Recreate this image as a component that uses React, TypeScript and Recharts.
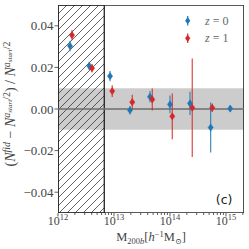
import React from 'react';
import {
  ComposedChart,
  Scatter,
  XAxis,
  YAxis,
  ErrorBar,
  ReferenceArea,
  ReferenceLine,
  Legend,
} from 'recharts';

// ---- data ----
const massZ0 = [1.64e12, 3.62e12, 8.49e12, 1.93e13, 4.4e13, 1.0e14, 2.28e14, 5.33e14, 1.19e15];
const deltaZ0 = [0.0303, 0.0207, 0.0158, -0.0006, 0.0059, 0.0022, 0.0027, -0.0089, 0.0002];
const errZ0 = [0.0025, 0.002, 0.0025, 0.002, 0.0027, 0.0043, 0.0056, 0.012, 0.0015];

const massZ1 = [1.78e12, 4.05e12, 9.3e12, 2.12e13, 4.83e13, 1.1e14, 2.5e14, 5.69e14];
const deltaZ1 = [0.0355, 0.0196, 0.0086, 0.0033, 0.0046, -0.0035, 0.0006, 0.0006];
const errZ1 = [0.0025, 0.002, 0.0028, 0.0036, 0.0053, 0.011, 0.0237, 0.002];

const xMajorTicks = [1e12, 1e13, 1e14, 1e15];
const xMinorTicks = [
  2e12, 3e12, 4e12, 5e12, 6e12, 7e12, 8e12, 9e12,
  2e13, 3e13, 4e13, 5e13, 6e13, 7e13, 8e13, 9e13,
  2e14, 3e14, 4e14, 5e14, 6e14, 7e14, 8e14, 9e14,
  2e15,
];
const yTicks = [-0.04, -0.02, 0, 0.02, 0.04];
const seriesLabels = ['0', '1'];

const xDomain = [1e12, 2.1e15];
const yDomain = [-0.05, 0.05];
const hatchEnd = 6.7e12;
const bandLimit = 0.01;

const BLUE = '#1f77b4';
const RED = '#d62728';
const SERIF = '"Liberation Serif", "DejaVu Serif", serif';

const dataZ0 = massZ0.map((x, i) => ({ x, y: deltaZ0[i], err: errZ0[i] }));
const dataZ1 = massZ1.map((x, i) => ({ x, y: deltaZ1[i], err: errZ1[i] }));

type Part = [string, number, number, boolean?];
function rich(parts: Part[]) {
  let prev = 0;
  return parts.map(([t, size, off, it], i) => {
    const dy = off - prev;
    prev = off;
    return (
      <tspan key={i} fontSize={size} dy={dy} fontStyle={it ? 'italic' : 'normal'}>
        {t}
      </tspan>
    );
  });
}

const Diamond = (color: string) => (props: any) => {
  const { cx, cy } = props;
  if (cx == null || cy == null) return <g />;
  const w = 2.6;
  const h = 3.6;
  return (
    <polygon
      points={`${cx},${cy - h} ${cx + w},${cy} ${cx},${cy + h} ${cx - w},${cy}`}
      fill={color}
      stroke={color}
      strokeWidth={0.5}
    />
  );
};

const XTick = (props: any) => {
  const { x, y, payload } = props;
  const v = payload.value as number;
  const e = Math.log10(v);
  const major = Math.abs(e - Math.round(e)) < 1e-6;
  return (
    <g>
      <line x1={x} y1={y} x2={x} y2={y + (major ? 3.5 : 2)} stroke="#333" strokeWidth={0.8} />
      {major && (
        <text x={x} y={y + 12} textAnchor="middle" fontFamily={SERIF} fill="#444">
          {rich([
            ['10', 12, 0],
            [String(Math.round(e)), 8.5, -5],
          ])}
        </text>
      )}
    </g>
  );
};

const YTick = (props: any) => {
  const { x, y, payload } = props;
  const v = payload.value as number;
  const s = v.toFixed(2).replace('-', '\u2212');
  return (
    <text x={x} y={y} dy={4.5} textAnchor="end" fontFamily={SERIF} fontSize={13} fill="#444">
      {s}
    </text>
  );
};

const YLabel = () => {
  const cx = 15;
  const cy = 104;
  return (
    <text
      x={cx}
      y={cy}
      transform={`rotate(-90, ${cx}, ${cy})`}
      textAnchor="middle"
      fontFamily={SERIF}
      fill="#444"
    >
      {rich([
        ['(', 14, 0],
        ['N', 14, 0, true],
        ['fid', 10, -5.5, true],
        [' \u2212 ', 14, 0],
        ['N', 14, 0, true],
        ['a', 10, -5.5, true],
        ['start', 7, -3.5, true],
        ['/2', 10, -5.5],
        [')', 14, 0],
        [' / ', 14, 0],
        ['N', 14, 0, true],
        ['a', 10, -5.5, true],
        ['start', 7, -3.5, true],
        ['/2', 10, -5.5],
        ['', 14, 0],
      ])}
    </text>
  );
};

const XLabel = (props: any) => {
  const vb = props.viewBox || {};
  const cx = (vb.x ?? 58) + (vb.width ?? 186) / 2;
  return (
    <text x={cx} y={241} textAnchor="middle" fontFamily={SERIF} fill="#444">
      {rich([
        ['M', 12.5, 0],
        ['200', 8.5, 2.5],
        ['b', 8.5, 2.5, true],
        ['[', 12.5, 0],
        ['h', 12.5, 0, true],
        ['\u22121', 8.5, -4.5],
        ['M', 12.5, 0],
        ['\u2299', 8, 2.5],
        [']', 12.5, 0],
      ])}
    </text>
  );
};

const PanelLabel = (props: any) => {
  const vb = props.viewBox || {};
  return (
    <text
      x={vb.x + vb.width - 11.5}
      y={vb.y + vb.height - 9}
      textAnchor="end"
      fontFamily='"DejaVu Sans", sans-serif'
      fontSize={12.5}
      fill="#222"
    >
      (c)
    </text>
  );
};

const LegendContent = () => {
  const rows = [
    { color: BLUE, label: seriesLabels[0] },
    { color: RED, label: seriesLabels[1] },
  ];
  return (
    <svg width={66} height={40}>
      {rows.map((r, i) => {
        const my = 12.7 + i * 17.6;
        return (
          <g key={i}>
            <line x1={9.7} y1={my - 4.8} x2={9.7} y2={my + 4.8} stroke={r.color} strokeWidth={1.2} />
            <polygon
              points={`9.7,${my - 3.6} 12.3,${my} 9.7,${my + 3.6} 7.1,${my}`}
              fill={r.color}
            />
            <text x={27} y={my + 3.8} fontFamily={SERIF} fontSize={12} fill="#666">
              <tspan fontStyle="italic">z</tspan>
              <tspan> = {r.label}</tspan>
            </text>
          </g>
        );
      })}
    </svg>
  );
};

export default function App() {
  return (
    <div style={{ position: 'fixed', left: 0, top: 0, width: 249, height: 249, background: '#fff' }}>
      <ComposedChart width={249} height={249} margin={{ top: 5, right: 5, bottom: 0, left: 0 }}>
        <defs>
          <pattern id="hatch" patternUnits="userSpaceOnUse" width={8} height={8}>
            <path d="M-2,2 L2,-2 M0,8 L8,0 M6,10 L10,6" stroke="#222" strokeWidth={0.7} />
          </pattern>
        </defs>
        <XAxis
          type="number"
          dataKey="x"
          scale="log"
          domain={xDomain}
          allowDataOverflow
          ticks={[...xMajorTicks, ...xMinorTicks]}
          interval={0}
          tickSize={0}
          tickMargin={0}
          axisLine={false}
          tickLine={false}
          tick={<XTick />}
          height={36}
          label={<XLabel />}
        />
        <YAxis
          type="number"
          dataKey="y"
          domain={yDomain}
          allowDataOverflow
          ticks={yTicks}
          interval={0}
          tickSize={3.5}
          tickMargin={1}
          axisLine={false}
          tickLine={{ stroke: '#333', strokeWidth: 0.8 }}
          tick={<YTick />}
          width={58}
          label={<YLabel />}
        />
        <ReferenceArea
          x1={xDomain[0]}
          x2={xDomain[1]}
          y1={-bandLimit}
          y2={bandLimit}
          fill="#cccccc"
          fillOpacity={1}
          stroke="none"
          ifOverflow="hidden"
        />
        <ReferenceArea
          x1={xDomain[0]}
          x2={hatchEnd}
          y1={yDomain[0]}
          y2={yDomain[1]}
          fill="url(#hatch)"
          fillOpacity={1}
          stroke="#111"
          strokeWidth={1.2}
          ifOverflow="hidden"
        />
        <ReferenceLine y={0} stroke="#6e6e6e" strokeWidth={1.6} />
        <Scatter data={dataZ0} fill={BLUE} shape={Diamond(BLUE)} isAnimationActive={false}>
          <ErrorBar dataKey="err" direction="y" width={0} stroke={BLUE} strokeWidth={1.2} strokeOpacity={0.85} />
        </Scatter>
        <Scatter data={dataZ1} fill={RED} shape={Diamond(RED)} isAnimationActive={false}>
          <ErrorBar dataKey="err" direction="y" width={0} stroke={RED} strokeWidth={1.2} strokeOpacity={0.85} />
        </Scatter>
        <ReferenceArea
          x1={xDomain[0]}
          x2={xDomain[1]}
          y1={yDomain[0]}
          y2={yDomain[1]}
          fill="none"
          stroke="#262626"
          strokeWidth={1.6}
          ifOverflow="hidden"
          label={<PanelLabel />}
        />
        <Legend
          layout="vertical"
          align="center"
          verticalAlign="middle"
          wrapperStyle={{ left: 178, top: 8, width: 66, height: 40 }}
          content={<LegendContent />}
        />
      </ComposedChart>
    </div>
  );
}
